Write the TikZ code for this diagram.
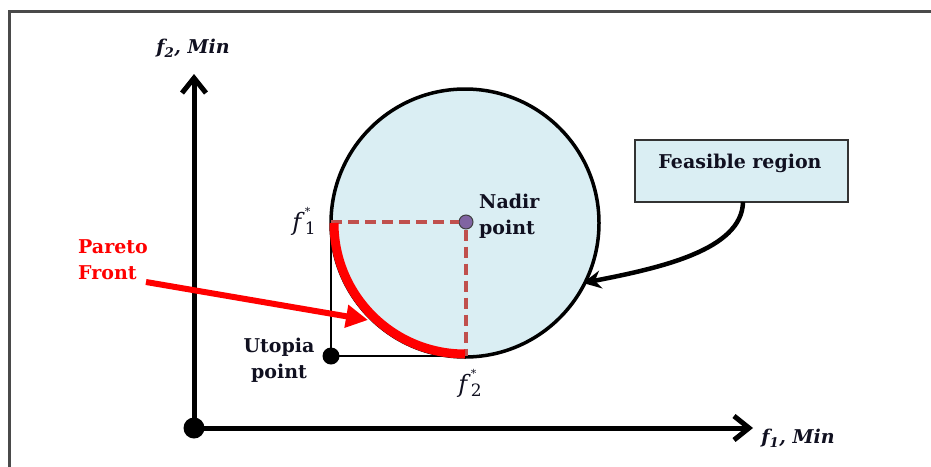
\documentclass[tikz,border=0pt]{standalone}
\usepackage{fontspec}
\setmainfont{DejaVu Serif}
\usetikzlibrary{arrows.meta}
\definecolor{fillblue}{HTML}{DAEEF3}
\definecolor{dashred}{HTML}{C0504D}
\definecolor{nadirpurple}{HTML}{8064A2}
\definecolor{framegray}{HTML}{4A4A4A}
\definecolor{txt}{HTML}{101020}
\newcommand{\fstar}[1]{\textit{f}\rlap{\raisebox{0.62em}{\fontsize{11}{11}\selectfont *}}\raisebox{-0.2em}{\fontsize{17}{17}\selectfont #1}}
\begin{document}
\begin{tikzpicture}[x=1pt,y=-1pt,
  axis/.style={line width=5pt,-{Straight Barb[length=15pt,width=24pt,line width=5pt]}},
  lbl/.style={font=\fontsize{19}{26}\selectfont\bfseries, text=txt, inner sep=0pt},
  axlbl/.style={font=\fontsize{19}{22}\selectfont\bfseries\itshape, text=txt, inner sep=0pt},
  starlbl/.style={font=\fontsize{24}{26}\selectfont, text=txt, inner sep=0pt},
  dashline/.style={dashred, line width=3.5pt, dash pattern=on 11pt off 6pt},
  box/.style={draw=black!80, line width=1.5pt, fill=fillblue, minimum width=213pt, minimum height=62pt, inner sep=0pt},
  dot/.style={circle, inner sep=0pt}]
\useasboundingbox (0,0) rectangle (931,466);
% frame
\draw[framegray, line width=2.5pt] (9.5,470) -- (9.5,11.5) -- (935,11.5);
% feasible region circle
\node[dot, draw=black, fill=fillblue, line width=3.5pt, minimum size=268pt] (C) at (465,223) {};
% utopia lines
\node[dot, fill=black, minimum size=17pt] (U) at (331,356) {};
\coordinate (F1) at (331,222);
\coordinate (F2) at (466,356);
\draw[line width=2.5pt] (F1) -- (U.center) -- (F2);
% dashed lines
\node[dot, fill=nadirpurple, draw=black!75, line width=1pt, minimum size=14pt] (N) at (466,222) {};
\draw[dashline] (F1) -- (N.west);
\draw[dashline] (N.south) -- (F2);
% pareto front
\draw[red, line width=9pt] (334,223) arc[start angle=180, end angle=90, radius=131];
% axes
\node[dot, fill=black, minimum size=21pt] (O) at (194,428) {};
\coordinate (Ytip) at (194,74);
\coordinate (Xtip) at (753,428);
\draw[axis] (O.center) -- (Ytip);
\draw[axis] (O.center) -- (Xtip);
\node[axlbl] (f2min) at (193,48) {f\textsubscript{2}, Min};
\node[axlbl] (f1min) at (798,438) {f\textsubscript{1}, Min};
% star labels
\node[starlbl] (f1s) at (304,221) {\fstar{1}};
\node[starlbl] (f2s) at (470,383) {\fstar{2}};
% text labels
\node[lbl, align=left, anchor=west] (nadir) at (479,216) {Nadir\\point};
\node[lbl, align=center] (utopia) at (279,360) {Utopia\\point};
\node[lbl, align=left, anchor=west, text=red] (pareto) at (78,260) {Pareto\\Front};
% pareto arrow
\coordinate (Pstart) at (146,282);
\coordinate (Ptip) at (368,320);
\draw[red, line width=6pt, -{Triangle[length=22pt,width=22pt]}] (Pstart) -- (Ptip);
% feasible region box
\node[box] (FR) at (741.5,171) {};
\node[lbl] (FRtext) at (740,163) {Feasible region};
\coordinate (FRtip) at (583,283);
\draw[line width=4.5pt, -{Stealth[length=18pt,width=18pt]}] (743,202) .. controls (742,250) and (660,268) .. (FRtip);
\end{tikzpicture}
\end{document}
